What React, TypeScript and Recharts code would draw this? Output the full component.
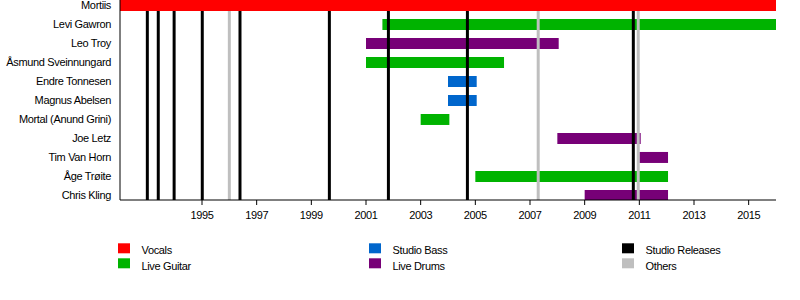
import React from 'react';
import { BarChart, Bar, XAxis, YAxis, Cell, ReferenceLine, Legend } from 'recharts';

const members = [
  'Mortiis',
  'Levi Gawron',
  'Leo Troy',
  'Åsmund Sveinnungard',
  'Endre Tonnesen',
  'Magnus Abelsen',
  'Mortal (Anund Grini)',
  'Joe Letz',
  'Tim Van Horn',
  'Åge Trøite',
  'Chris Kling',
];
const starts = [1992, 2001.6, 2001, 2001, 2004, 2004, 2003, 2008, 2011, 2005, 2009];
const ends = [2016, 2016, 2008.05, 2006.05, 2005.05, 2005.05, 2004.05, 2011.05, 2012.05, 2012.05, 2012.05];
const memberRoles = [0, 1, 3, 1, 2, 2, 1, 3, 3, 1, 3];

const roleNames = ['Vocals', 'Live Guitar', 'Studio Bass', 'Live Drums'];
const roleColors = ['#ff0000', '#00b300', '#0066cc', '#770077'];

const lineNames = ['Studio Releases', 'Others'];
const lineColors = ['#000000', '#bfbfbf'];
const studioReleases = [1993.0, 1993.4, 1993.98, 1995.01, 1996.39, 1999.66, 2001.82, 2004.71, 2010.78];
const otherEvents = [1996.0, 2007.3, 2010.96];

const yearTicks = [1995, 1997, 1999, 2001, 2003, 2005, 2007, 2009, 2011, 2013, 2015];
const yearDomain = [1992, 2016];

const rowTicks = members.map((_, i) => i);
const rowDomain = [-0.29, 10.24];
const LINE_TOP = 0.29;

const data = members.map((name, i) => ({
  idx: i,
  name,
  range: [starts[i], ends[i]],
  role: memberRoles[i],
}));

const FONT = "'Liberation Sans', Arial, sans-serif";
const textStyle = { fontFamily: FONT, fontSize: 11, fill: '#000', letterSpacing: '-0.35px' };

const legendItems = [
  { name: roleNames[0], color: roleColors[0], col: 0, row: 0 },
  { name: roleNames[1], color: roleColors[1], col: 0, row: 1 },
  { name: roleNames[2], color: roleColors[2], col: 1, row: 0 },
  { name: roleNames[3], color: roleColors[3], col: 1, row: 1 },
  { name: lineNames[0], color: lineColors[0], col: 2, row: 0 },
  { name: lineNames[1], color: lineColors[1], col: 2, row: 1 },
];
const colX = [118, 369, 622];
const rowY = [243.3, 258.3];

const LegendBox = () => (
  <svg width={800} height={300} style={{ position: 'absolute', left: 0, top: 0 }}>
    {legendItems.map((it) => (
      <g key={it.name}>
        <rect x={colX[it.col]} y={rowY[it.row]} width={12} height={10} fill={it.color} />
        <text x={colX[it.col] + 23.5} y={rowY[it.row] + 10.3 + it.row * 1.2} style={textStyle}>
          {it.name}
        </text>
      </g>
    ))}
  </svg>
);

const MemberTick = (props: any) => {
  const { x, y, payload } = props;
  return (
    <text x={x} y={y} dy="0.355em" textAnchor="end" style={textStyle}>
      {members[payload.value] ?? ''}
    </text>
  );
};

export default function App() {
  return (
    <div style={{ position: 'absolute', left: 0, top: 0, width: 800, height: 300, background: '#fff' }}>
      <BarChart
        width={800}
        height={300}
        data={data}
        layout="vertical"
        margin={{ top: 0, right: 24, left: 0, bottom: 70 }}
      >
        <XAxis
          type="number"
          domain={yearDomain}
          ticks={yearTicks}
          allowDataOverflow
          tickSize={5}
          tickMargin={6}
          axisLine={{ stroke: '#000' }}
          tickLine={{ stroke: '#000' }}
          tick={textStyle}
          height={30}
        />
        <YAxis
          type="number"
          dataKey="idx"
          domain={rowDomain}
          ticks={rowTicks}
          allowDataOverflow
          interval={0}
          width={120}
          tickSize={0}
          tickMargin={9}
          axisLine={{ stroke: '#000' }}
          tickLine={false}
          tick={<MemberTick />}
        />
        <Bar dataKey="range" barSize={11} isAnimationActive={false}>
          {data.map((d) => (
            <Cell key={d.name} fill={roleColors[d.role]} />
          ))}
        </Bar>
        {otherEvents.map((x) => (
          <ReferenceLine
            key={'o' + x}
            segment={[{ x, y: LINE_TOP }, { x, y: rowDomain[1] }]}
            stroke={lineColors[1]}
            strokeWidth={3}
          />
        ))}
        {studioReleases.map((x) => (
          <ReferenceLine
            key={'s' + x}
            segment={[{ x, y: LINE_TOP }, { x, y: rowDomain[1] }]}
            stroke={lineColors[0]}
            strokeWidth={3}
          />
        ))}
        <Legend
          layout="vertical"
          align="center"
          verticalAlign="middle"
          wrapperStyle={{ position: 'absolute', left: 0, top: 0, width: 800, height: 300, pointerEvents: 'none' }}
          content={() => <LegendBox />}
        />
      </BarChart>
    </div>
  );
}
